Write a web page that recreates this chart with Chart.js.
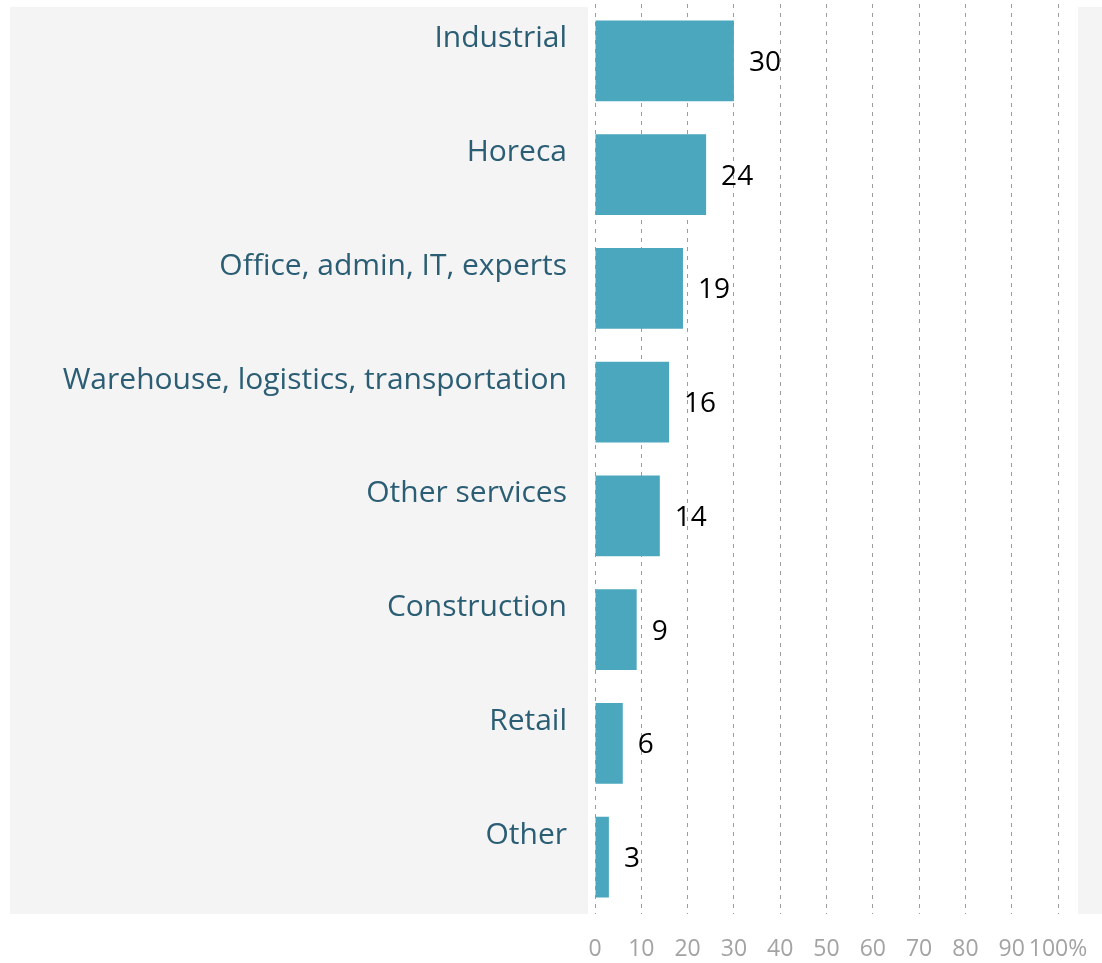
<!DOCTYPE html>
<html>
<head>
<meta charset="utf-8">
<script src="https://cdn.jsdelivr.net/npm/chart.js@4"></script>
<style>
  html, body { margin: 0; padding: 0; background: #fff; }
  #wrap { width: 1102px; height: 963px; }
</style>
</head>
<body>
<div id="wrap"><canvas id="myChart" width="1102" height="963"></canvas></div>
<script>
var sectors = ['Industrial', 'Horeca', 'Office, admin, IT, experts', 'Warehouse, logistics, transportation',
  'Other services', 'Construction', 'Retail', 'Other']
var shares = [30, 24, 19, 16, 14, 9, 6, 3]
var xTicks = ['0', '10', '20', '30', '40', '50', '60', '70', '80', '90', '100%']

var barColor = '#4ba7bd'
var labelColor = '#2b5e74'

// gray panels behind the labels and on the far right
var panels = {
  id: 'panels',
  beforeDraw(chart) {
    var c = chart.ctx, a = chart.chartArea
    var x100 = chart.scales.x.getPixelForValue(100)
    c.save()
    c.fillStyle = '#f4f4f4'
    c.fillRect(10, 7, a.left - 7 - 10, a.bottom - 7)
    c.fillRect(x100 + 20, 7, chart.width - x100 - 20, a.bottom - 7)
    c.restore()
  }
}

// numbers at the end of each bar
var valueLabels = {
  id: 'valueLabels',
  afterDatasetsDraw(chart) {
    var c = chart.ctx
    var meta = chart.getDatasetMeta(0)
    c.save()
    c.font = '28px "Open Sans"'
    c.fillStyle = '#000'
    c.textBaseline = 'middle'
    c.textAlign = 'left'
    meta.data.forEach(function (bar, i) {
      c.fillText(shares[i], bar.x + 15, bar.y + 2)
    })
    c.restore()
  }
}

var ctx = document.getElementById('myChart').getContext('2d')
new Chart(ctx, {
  type: 'bar',
  data: {
    labels: sectors,
    datasets: [{ data: shares, backgroundColor: barColor, borderWidth: 0,
      categoryPercentage: 1, barPercentage: 0.71 }]
  },
  options: {
    indexAxis: 'y',
    responsive: false,
    animation: false,
    layout: { padding: { top: 4, right: 44, left: 0, bottom: 0 } },
    plugins: { legend: { display: false }, tooltip: { enabled: false } },
    scales: {
      x: {
        min: 0, max: 100,
        ticks: {
          stepSize: 10,
          autoSkip: false,
          color: '#a3a3a3',
          font: { family: 'Open Sans', size: 23 },
          padding: 22,
          maxRotation: 0,
          callback: function (v, i) { return xTicks[i] }
        },
        grid: { color: '#9c9c9c', lineWidth: 1, drawTicks: false },
        border: { display: false, dash: [4, 5] },
        afterFit: function (s) { s.height = 49; s.paddingLeft = 0; s.paddingRight = 0 }
      },
      y: {
        ticks: {
          color: labelColor,
          font: { family: 'Open Sans', size: 30 },
          padding: 28,
          labelOffset: -22
        },
        grid: { display: false, drawTicks: false },
        border: { display: false },
        afterFit: function (s) { s.width = 595; s.paddingTop = 0; s.paddingBottom = 0 }
      }
    }
  },
  plugins: [panels, valueLabels]
})
</script>
</body>
</html>
